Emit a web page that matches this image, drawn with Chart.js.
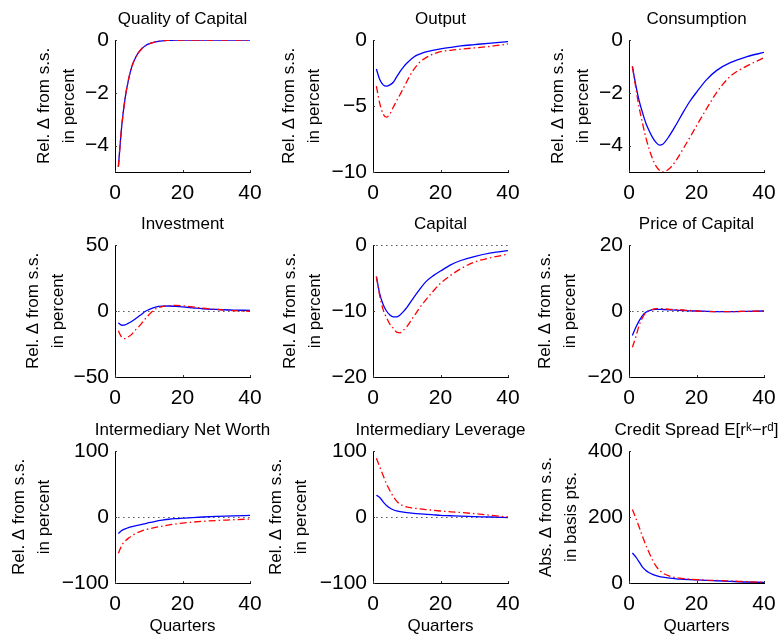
<!DOCTYPE html>
<html>
<head>
<meta charset="utf-8">
<script src="https://cdn.jsdelivr.net/npm/chart.js@4.4.1/dist/chart.umd.min.js"></script>
<style>
    html, body { margin: 0; padding: 0; background: #fff; overflow: hidden; }
    #fig { position: relative; width: 784px; height: 640px; overflow: hidden; }
    #fig canvas { position: absolute; }
</style>
</head>
<body>
<div id="fig"></div>
<script>
const quarters = [1, 2, 3, 4, 5, 6, 7, 8, 9, 10, 12, 14, 16, 18, 20, 23, 26, 30, 35, 40];

// blue solid line / red dash-dot line, one pair per panel
const qualityBlue = [-4.8, -3.25, -2.2, -1.5, -1.0, -0.69, -0.47, -0.32, -0.22, -0.15, -0.07, -0.03, -0.015, -0.007, 0, 0, 0, 0, 0, 0];
const qualityRed  = [-4.8, -3.25, -2.2, -1.5, -1.0, -0.69, -0.47, -0.32, -0.22, -0.15, -0.07, -0.03, -0.015, -0.007, 0, 0, 0, 0, 0, 0];

const outputBlue = [-2.2, -3.0, -3.4, -3.5, -3.4, -3.2, -2.8, -2.4, -2.05, -1.76, -1.3, -1.05, -0.88, -0.77, -0.68, -0.56, -0.45, -0.35, -0.23, -0.13];
const outputRed  = [-3.5, -4.8, -5.6, -5.85, -5.6, -5.1, -4.6, -4.15, -3.65, -3.15, -2.27, -1.64, -1.3, -1.05, -0.88, -0.78, -0.7, -0.6, -0.48, -0.3];

const consBlue = [-1.0, -1.7, -2.3, -2.75, -3.15, -3.45, -3.7, -3.88, -3.98, -3.95, -3.62, -3.2, -2.75, -2.33, -1.98, -1.5, -1.15, -0.86, -0.63, -0.47];
const consRed  = [-1.0, -1.8, -2.55, -3.15, -3.7, -4.15, -4.5, -4.78, -4.93, -5.0, -4.87, -4.55, -4.13, -3.7, -3.25, -2.6, -1.98, -1.38, -0.98, -0.67];

const invBlue = [-9, -10.8, -10.5, -9.2, -7.8, -6.0, -4.1, -2.2, -0.2, 1.0, 3.0, 3.7, 3.8, 3.5, 3.1, 2.4, 1.7, 1.2, 0.7, 0.5];
const invRed  = [-15, -20, -21, -19.5, -17.5, -14.5, -12, -9, -5.8, -3, 1.5, 3.4, 4.0, 4.2, 4.0, 3.1, 2.1, 1.2, 0.3, -0.3];

const capBlue = [-4.8, -7.4, -9.0, -10.0, -10.6, -10.9, -10.9, -10.6, -10.1, -9.5, -8.0, -6.6, -5.4, -4.6, -3.95, -3.0, -2.35, -1.75, -1.2, -0.86];
const capRed  = [-4.8, -7.7, -9.8, -11.0, -12.0, -12.6, -13.2, -13.3, -12.9, -12.4, -10.9, -9.4, -8.1, -6.9, -5.8, -4.6, -3.6, -2.6, -1.9, -1.4];

const priceBlue = [-7.4, -5.0, -3.0, -1.4, -0.4, 0.1, 0.4, 0.5, 0.5, 0.45, 0.35, 0.25, 0.15, 0.05, 0, -0.1, -0.2, -0.2, -0.1, 0];
const priceRed  = [-11, -7.9, -4.4, -2.0, -0.5, 0.2, 0.5, 0.7, 0.75, 0.7, 0.5, 0.4, 0.3, 0.15, 0, -0.15, -0.2, -0.2, -0.1, 0];

const worthBlue = [-25, -20.5, -18, -16, -14.5, -13.3, -12.3, -11.3, -10, -8.7, -6.5, -4.8, -3.4, -2.5, -1.8, -0.8, 0, 0.9, 1.6, 2.5];
const worthRed  = [-55, -43, -36.5, -32, -28.5, -25.5, -23, -21, -19.3, -18, -15.8, -13.8, -12, -10.5, -9.3, -7.8, -6.6, -5.3, -4.2, -3];

const levBlue = [33, 29.5, 23, 17.5, 13.7, 11, 9.2, 8.2, 7.3, 6.6, 5.6, 4.8, 4.1, 3.3, 2.5, 1.9, 1.3, 0.6, 0, -1];
const levRed  = [89, 76, 63, 50, 40, 31, 24, 19.3, 17, 15.2, 13.5, 12.2, 11.2, 10.1, 9.1, 7.9, 6.8, 5.1, 2.5, 0];

const spreadBlue = [91, 79, 64, 48, 38, 31, 26, 22.5, 19.5, 17.5, 14.5, 12.5, 11.3, 10.2, 9.3, 8, 6.8, 5, 3, 2];
const spreadRed  = [223, 197, 170, 141, 115, 91, 69, 51, 39, 30, 21, 16, 13.4, 11.6, 10.3, 9, 7.8, 6.2, 4, 2];

// axis tick labels
const xTicks = [0, 20, 40];
const ticksSmall = [-4, -2, 0];
const ticksOutput = [-10, -5, 0];
const ticks50 = [-50, 0, 50];
const ticksCapital = [-20, -10, 0];
const ticks20 = [-20, 0, 20];
const ticks100 = [-100, 0, 100];
const ticksSpread = [0, 200, 400];

const relLabel = ['Rel. \u0394 from s.s.', 'in percent'];
const absLabel = ['Abs. \u0394 from s.s.', 'in basis pts.'];

const panels = [
    { title: 'Quality of Capital', blue: qualityBlue, red: qualityRed, min: -5, max: 0, ticks: ticksSmall, label: relLabel, zero: false, labelPad: 26.5 },
    { title: 'Output', blue: outputBlue, red: outputRed, min: -10, max: 0, ticks: ticksOutput, label: relLabel, zero: false, labelPad: 13.5 },
    { title: 'Consumption', blue: consBlue, red: consRed, min: -5, max: 0, ticks: ticksSmall, label: relLabel, zero: false, labelPad: 26.5 },
    { title: 'Investment', blue: invBlue, red: invRed, min: -50, max: 50, ticks: ticks50, label: relLabel, zero: true, labelPad: 15.5 },
    { title: 'Capital', blue: capBlue, red: capRed, min: -20, max: 0, ticks: ticksCapital, label: relLabel, zero: true, labelPad: 14.5 },
    { title: 'Price of Capital', blue: priceBlue, red: priceRed, min: -20, max: 20, ticks: ticks20, label: relLabel, zero: true, labelPad: 13.5 },
    { title: 'Intermediary Net Worth', blue: worthBlue, red: worthRed, min: -100, max: 100, ticks: ticks100, label: relLabel, zero: true, labelPad: 1.5 },
    { title: 'Intermediary Leverage', blue: levBlue, red: levRed, min: -100, max: 100, ticks: ticks100, label: relLabel, zero: true, labelPad: 0.5 },
    { title: 'Credit Spread E[r\u1D4F\u2212r\u1D48]', blue: spreadBlue, red: spreadRed, min: 0, max: 400, ticks: ticksSpread, label: absLabel, zero: false, labelPad: 14.5 }
];

const colLeft = [115, 373, 629];
const rowTop = [40, 245, 451];
const AXIS_W = 110, PLOT_W = 135, PLOT_H = 132, RIGHT = 30, TOP = 34;
const FONT = "'Liberation Sans', Arial, 'DejaVu Sans', sans-serif";

Chart.defaults.font.family = FONT;
Chart.defaults.color = '#000';

const fmt = v => (v < 0 ? '\u2212' + Math.abs(v) : String(v));

// dotted zero line, panel title over the axes and small inward ticks, matlab style
const matlabBits = {
    id: 'matlabBits',
    beforeDatasetsDraw(chart, args, opts) {
        if (!opts.zero) return;
        const x = chart.scales.x, y = chart.scales.y;
        const ctx = chart.ctx;
        const py = Math.round(y.getPixelForValue(0)) + 0.5;
        ctx.save();
        ctx.beginPath();
        ctx.moveTo(x.getPixelForValue(1), py);
        ctx.lineTo(x.getPixelForValue(40), py);
        ctx.lineWidth = 1;
        ctx.strokeStyle = '#000';
        ctx.setLineDash([1, 4]);
        ctx.stroke();
        ctx.restore();
    },
    afterDraw(chart, args, opts) {
        const x = chart.scales.x, y = chart.scales.y;
        const ctx = chart.ctx;
        const a = chart.chartArea;
        ctx.save();
        ctx.strokeStyle = '#333';
        ctx.lineWidth = 1;
        ctx.beginPath();
        x.ticks.forEach(t => {
            const px = Math.round(x.getPixelForValue(t.value)) + 0.5;
            ctx.moveTo(px, a.bottom);
            ctx.lineTo(px, a.bottom - 2);
        });
        y.ticks.forEach(t => {
            const py = Math.round(y.getPixelForValue(t.value)) + 0.5;
            ctx.moveTo(a.left, py);
            ctx.lineTo(a.left + 2, py);
        });
        ctx.stroke();

        ctx.fillStyle = '#000';
        ctx.font = '17px ' + FONT;
        ctx.textAlign = 'center';
        ctx.textBaseline = 'middle';
        ctx.fillText(opts.title, (a.left + a.right) / 2, a.top - 21);
        ctx.restore();
    }
};

const fig = document.getElementById('fig');

panels.forEach((p, i) => {
    const col = i % 3, row = Math.floor(i / 3);
    const bottomRow = row === 2;
    const xH = bottomRow ? 56 : 34;

    const canvas = document.createElement('canvas');
    canvas.width = AXIS_W + PLOT_W + RIGHT;
    canvas.height = TOP + PLOT_H + xH;
    canvas.style.left = (colLeft[col] - AXIS_W) + 'px';
    canvas.style.top = (rowTop[row] - TOP) + 'px';
    canvas.style.width = canvas.width + 'px';
    canvas.style.height = canvas.height + 'px';
    fig.appendChild(canvas);

    new Chart(canvas.getContext('2d'), {
        type: 'line',
        data: {
            datasets: [
                {
                    label: 'red',
                    data: quarters.map((q, k) => ({ x: q, y: p.red[k] })),
                    borderColor: '#ff0000',
                    borderWidth: 1.3,
                    borderDash: [7, 3, 1.5, 3],
                    pointRadius: 0,
                    cubicInterpolationMode: 'monotone',
                    fill: false
                },
                {
                    label: 'blue',
                    data: quarters.map((q, k) => ({ x: q, y: p.blue[k] })),
                    borderColor: '#0000ff',
                    borderWidth: 1.3,
                    pointRadius: 0,
                    cubicInterpolationMode: 'monotone',
                    fill: false
                }
            ]
        },
        options: {
            responsive: false,
            animation: false,
            events: [],
            layout: { padding: { top: TOP, right: RIGHT, bottom: 0, left: 0 } },
            plugins: {
                legend: { display: false },
                tooltip: { enabled: false },
                title: { display: false },
                matlabBits: { zero: p.zero, title: p.title }
            },
            scales: {
                x: {
                    type: 'linear',
                    min: 0,
                    max: 40,
                    grid: { display: false, drawTicks: false },
                    border: { display: true, color: '#000', width: 1 },
                    afterBuildTicks: s => { s.ticks = xTicks.map(v => ({ value: v })); },
                    afterFit: s => { s.height = xH; s.paddingLeft = 0; s.paddingRight = 0; },
                    ticks: {
                        font: { size: 21 },
                        color: '#000',
                        padding: 9,
                        maxRotation: 0,
                        callback: fmt
                    },
                    title: {
                        display: bottomRow,
                        text: 'Quarters',
                        color: '#000',
                        font: { size: 17, lineHeight: '20px' },
                        padding: { top: 0, bottom: 3 }
                    }
                },
                y: {
                    type: 'linear',
                    min: p.min,
                    max: p.max,
                    grid: { display: false, drawTicks: false },
                    border: { display: true, color: '#000', width: 1 },
                    afterBuildTicks: s => { s.ticks = p.ticks.map(v => ({ value: v })); },
                    afterFit: s => { s.width = AXIS_W; s.paddingTop = 0; s.paddingBottom = 0; },
                    ticks: {
                        font: { size: 21 },
                        color: '#000',
                        padding: 6,
                        callback: fmt
                    },
                    title: {
                        display: true,
                        text: p.label,
                        color: '#000',
                        font: { size: 17, lineHeight: '25px' },
                        padding: { top: p.labelPad, bottom: 0 }
                    }
                }
            }
        },
        plugins: [matlabBits]
    });
});
</script>
</body>
</html>
